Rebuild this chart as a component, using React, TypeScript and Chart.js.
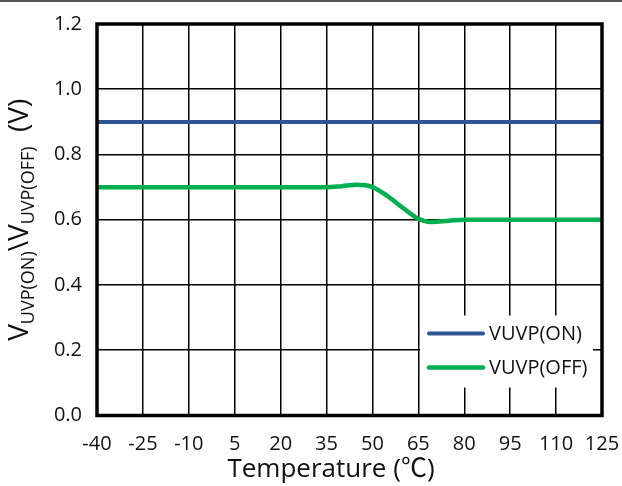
import React, { useEffect, useRef } from 'react';
import { Chart, registerables } from 'chart.js';

Chart.register(...registerables);

// ---- Data ----
const temperatures = [-40, -25, -10, 5, 20, 35, 40, 45, 50, 55, 60, 65, 69, 75, 80, 95, 110, 125];
const vuvpOn = [0.9, 0.9, 0.9, 0.9, 0.9, 0.9, 0.9, 0.9, 0.9, 0.9, 0.9, 0.9, 0.9, 0.9, 0.9, 0.9, 0.9, 0.9];
const vuvpOff = [0.7, 0.7, 0.7, 0.7, 0.7, 0.7, 0.703, 0.707, 0.7, 0.672, 0.636, 0.603, 0.593, 0.597, 0.6, 0.6, 0.6, 0.6];
const xTickValues = [-40, -25, -10, 5, 20, 35, 50, 65, 80, 95, 110, 125];
const yTickValues = [0, 0.2, 0.4, 0.6, 0.8, 1.0, 1.2];
const seriesLabels = ['VUVP(ON)', 'VUVP(OFF)'];
const seriesColors = ['#2F5597', '#00B050'];
const xTitle = 'Temperature (\u2103)';

const FONT = '"Open Sans", "Noto Sans CJK SC", sans-serif';

const decorPlugin = {
  id: 'decor',
  afterDatasetsDraw(chart: any) {
    const { ctx, chartArea: a } = chart;
    ctx.save();
    // plot border
    ctx.strokeStyle = '#000';
    ctx.lineWidth = 3.5;
    ctx.strokeRect(a.left, a.top, a.right - a.left, a.bottom - a.top);

    // legend (inside plot, bottom-right)
    const lx0 = a.right - 182;
    const lx1 = a.right - 9;
    const ly0 = a.bottom - 100;
    const ly1 = a.bottom - 28;
    ctx.fillStyle = '#fff';
    ctx.fillRect(lx0, ly0, lx1 - lx0, ly1 - ly0);
    ctx.font = `20px ${FONT}`;
    ctx.textBaseline = 'middle';
    ctx.textAlign = 'left';
    chart.data.datasets.forEach((ds: any, i: number) => {
      const y = ly0 + 18 + i * 34;
      ctx.strokeStyle = ds.borderColor;
      ctx.lineWidth = ds.borderWidth;
      ctx.lineCap = 'round';
      ctx.beginPath();
      ctx.moveTo(lx0 + 9, y);
      ctx.lineTo(lx0 + 63, y);
      ctx.stroke();
      ctx.fillStyle = '#111';
      ctx.fillText(ds.label, lx0 + 69, y + 1);
    });
    ctx.restore();
  },
  afterDraw(chart: any) {
    const { ctx, chartArea: a } = chart;
    ctx.save();
    ctx.fillStyle = '#111';
    // x title
    ctx.font = `26px ${FONT}`;
    ctx.textAlign = 'center';
    ctx.textBaseline = 'alphabetic';
    ctx.fillText(xTitle, 331, 477);

    // y title with subscripts, rotated
    const mainFont = `28px ${FONT}`;
    const subFont = `18px ${FONT}`;
    const parts: [string, boolean][] = [
      ['V', false],
      ['UVP(ON)', true],
      ['\\V', false],
      ['UVP(OFF)', true],
      ['  (V)', false],
    ];
    let total = 0;
    const widths = parts.map(([t, sub]) => {
      ctx.font = sub ? subFont : mainFont;
      const w = ctx.measureText(t).width;
      total += w;
      return w;
    });
    const cy = (a.top + a.bottom) / 2;
    ctx.translate(28, cy + total / 2);
    ctx.rotate(-Math.PI / 2);
    ctx.textAlign = 'left';
    let x = 0;
    parts.forEach(([t, sub], i) => {
      ctx.font = sub ? subFont : mainFont;
      ctx.fillText(t, x, sub ? 6 : 0);
      x += widths[i];
    });
    ctx.restore();
  },
};

export default function App() {
  const ref = useRef<HTMLCanvasElement>(null);

  useEffect(() => {
    if (!ref.current) return;
    const chart = new Chart(ref.current, {
      type: 'line',
      data: {
        datasets: [
          {
            label: seriesLabels[0],
            data: temperatures.map((t, i) => ({ x: t, y: vuvpOn[i] })),
            borderColor: seriesColors[0],
            backgroundColor: seriesColors[0],
            borderWidth: 4,
            pointRadius: 0,
            fill: false,
          },
          {
            label: seriesLabels[1],
            data: temperatures.map((t, i) => ({ x: t, y: vuvpOff[i] })),
            borderColor: seriesColors[1],
            backgroundColor: seriesColors[1],
            borderWidth: 4.5,
            pointRadius: 0,
            fill: false,
            cubicInterpolationMode: 'monotone',
          },
        ],
      },
      options: {
        responsive: false,
        animation: false,
        layout: { padding: { left: 0, top: 24, right: 20, bottom: 0 } },
        plugins: {
          legend: { display: false },
          tooltip: { enabled: false },
          title: { display: false },
        },
        scales: {
          x: {
            type: 'linear',
            min: -40,
            max: 125,
            afterBuildTicks: (scale: any) => {
              scale.ticks = xTickValues.map((v) => ({ value: v }));
            },
            afterFit: (scale: any) => {
              scale.height = 70.5;
              scale.paddingLeft = 0;
              scale.paddingRight = 0;
            },
            grid: { color: '#000', lineWidth: 1.5, drawTicks: false },
            border: { display: false },
            ticks: {
              font: { size: 20, family: FONT },
              color: '#111',
              padding: 17,
              maxRotation: 0,
              autoSkip: false,
              callback: (v: any) => String(v),
            },
          },
          y: {
            type: 'linear',
            min: 0,
            max: 1.2,
            afterBuildTicks: (scale: any) => {
              scale.ticks = yTickValues.map((v) => ({ value: v }));
            },
            afterFit: (scale: any) => {
              scale.width = 97;
              scale.paddingTop = 0;
              scale.paddingBottom = 0;
            },
            grid: { color: '#000', lineWidth: 1.5, drawTicks: false },
            border: { display: false },
            ticks: {
              font: { size: 20, family: FONT },
              color: '#111',
              padding: 15,
              callback: (v: any) => Number(v).toFixed(1),
            },
          },
        },
      },
      plugins: [decorPlugin],
    } as any);
    return () => chart.destroy();
  }, []);

  return (
    <div style={{ position: 'absolute', left: 0, top: 0, width: 622, height: 486, background: '#fff' }}>
      <div style={{ position: 'absolute', left: 0, top: 0, width: 622, height: 2, background: '#555' }} />
      <canvas ref={ref} width={622} height={486} style={{ display: 'block' }} />
    </div>
  );
}
